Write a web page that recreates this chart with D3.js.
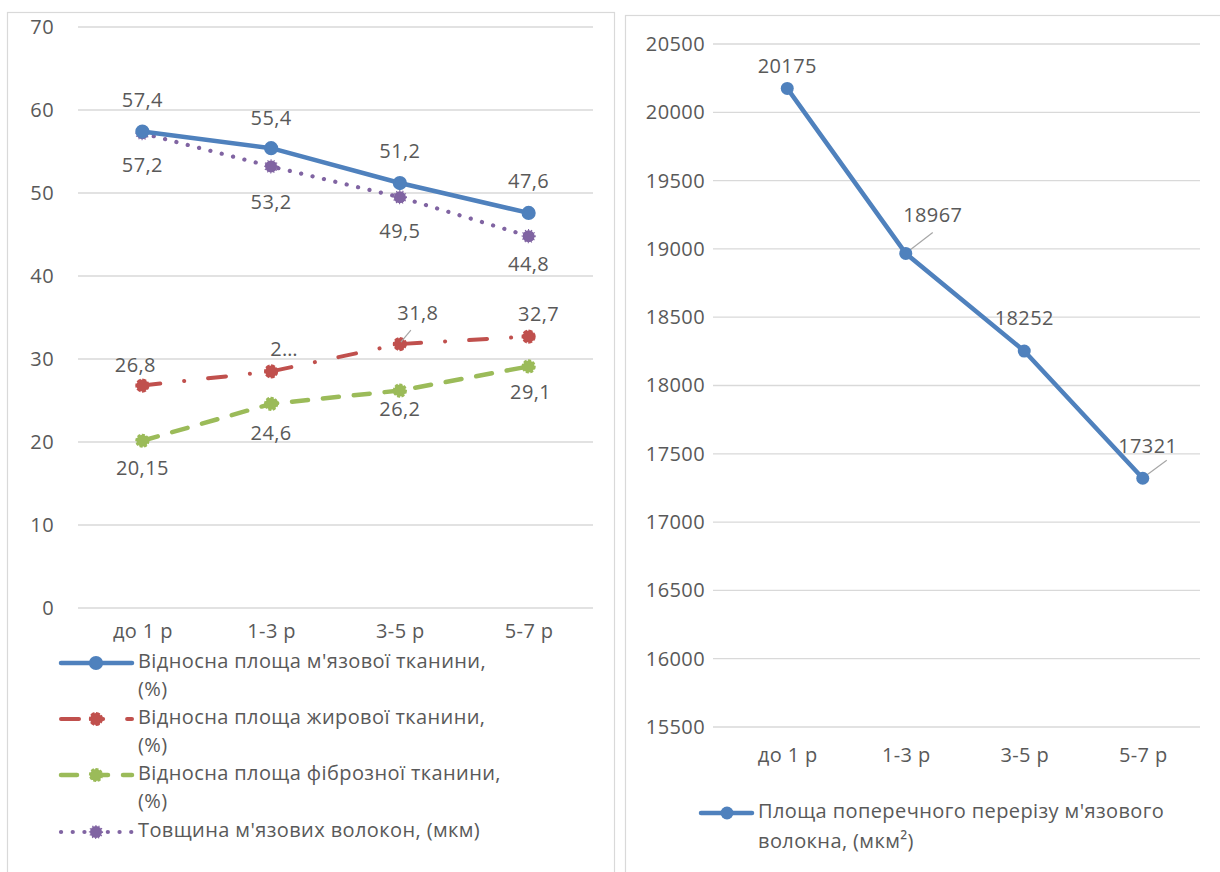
<!DOCTYPE html>
<html>
<head>
<meta charset="utf-8">
<script src="https://cdn.jsdelivr.net/npm/d3@7"></script>
<style>
  html, body { margin: 0; padding: 0; background: #fff; }
  svg text { font-family: "Open Sans", "Noto Sans", sans-serif; fill: #595959; letter-spacing: 0.4px; }
</style>
</head>
<body>
<svg id="chart" width="1220" height="872"></svg>
<script>
// Age groups shared by both panels
const categories = ["до 1 р", "1-3 р", "3-5 р", "5-7 р"];

// Left panel series
const muscleArea = [57.4, 55.4, 51.2, 47.6];
const fatArea = [26.8, 28.5, 31.8, 32.7];
const fibrousArea = [20.15, 24.6, 26.2, 29.1];
const fiberThickness = [57.2, 53.2, 49.5, 44.8];

// Label texts for the left panel (the fat value at 1-3 р is shown truncated)
const muscleLabels = ["57,4", "55,4", "51,2", "47,6"];
const fatLabels = ["26,8", "2…", "31,8", "32,7"];
const fibrousLabels = ["20,15", "24,6", "26,2", "29,1"];
const thicknessLabels = ["57,2", "53,2", "49,5", "44,8"];

const leftTicks = [0, 10, 20, 30, 40, 50, 60, 70];

// Right panel series
const crossSection = [20175, 18967, 18252, 17321];
const crossLabels = ["20175", "18967", "18252", "17321"];
const rightTicks = [15500, 16000, 16500, 17000, 17500, 18000, 18500, 19000, 19500, 20000, 20500];

const svg = d3.select("#chart");
const txtColor = "#595959";
const gridColor = "#d9d9d9";
const FS = "20px";

// panel frames
svg.append("rect").attr("x", 7.5).attr("y", 12.5).attr("width", 607).attr("height", 880)
  .attr("fill", "none").attr("stroke", gridColor).attr("stroke-width", 1.2);
svg.append("rect").attr("x", 625.5).attr("y", 15.5).attr("width", 620).attr("height", 880)
  .attr("fill", "none").attr("stroke", gridColor).attr("stroke-width", 1.2);

function styleAxisText(sel) {
  sel.select(".domain").remove();
  sel.selectAll("text").style("font-size", FS).attr("fill", txtColor)
    .style("font-family", "Open Sans");
}

// ---------- left panel ----------
const xL = d3.scalePoint().domain(categories).range([78, 593]).padding(0.5);
const yL = d3.scaleLinear().domain([0, 70]).range([608, 27]);

const gL = svg.append("g");
gL.selectAll("line.grid").data(leftTicks).join("line")
  .attr("x1", 78).attr("x2", 593)
  .attr("y1", d => yL(d)).attr("y2", d => yL(d))
  .attr("stroke", gridColor).attr("stroke-width", 1.3);

gL.append("g").attr("transform", "translate(54,0)")
  .call(d3.axisLeft(yL).tickValues(leftTicks).tickSize(0).tickPadding(0))
  .call(styleAxisText);

gL.append("g").attr("transform", "translate(0,624)")
  .call(d3.axisBottom(xL).tickSize(0).tickPadding(0))
  .call(styleAxisText);

const leftSeries = [
  { name: "muscle", values: muscleArea, labels: muscleLabels, color: "#4F81BD", dash: null, width: 4.5,
    mDash: null, labelOff: [[0, -30], [0, -29], [0, -30], [0, -30]] },
  { name: "fat", values: fatArea, labels: fatLabels, color: "#C0504D", dash: "18,24,0.1,24", width: 4,
    mDash: "4,1.5", labelOff: [[-7, -19], [13, -21], [18, -29], [10, -21]] },
  { name: "fibrous", values: fibrousArea, labels: fibrousLabels, color: "#9BBB59", dash: "16,15", width: 4.5,
    mDash: "3,1.5", labelOff: [[0, 29], [0, 31], [0, 20], [2, 27]] },
  { name: "thickness", values: fiberThickness, labels: thicknessLabels, color: "#8064A2", dash: "0.1,11.6", width: 4.2,
    mDash: "1,2", labelOff: [[0, 33], [0, 37], [0, 36], [0, 29]] }
];

const lineL = d3.line().x((d, i) => xL(categories[i])).y(d => yL(d));

// draw order: fibrous, fat, thickness, muscle on top
const order = ["fibrous", "fat", "thickness", "muscle"];
order.forEach(n => {
  const s = leftSeries.find(o => o.name === n);
  const g = gL.append("g");
  g.append("path").datum(s.values).attr("d", lineL)
    .attr("fill", "none").attr("stroke", s.color).attr("stroke-width", s.width)
    .attr("stroke-linecap", "round").attr("stroke-linejoin", "round")
    .attr("stroke-dasharray", s.dash);
  g.selectAll("circle").data(s.values).join("circle")
    .attr("cx", (d, i) => xL(categories[i])).attr("cy", d => yL(d))
    .attr("r", 6).attr("fill", s.color)
    .attr("stroke", s.color).attr("stroke-width", 2.2)
    .attr("stroke-dasharray", s.mDash);
});

// leader line for the 31,8 label
gL.append("line")
  .attr("x1", xL(categories[2]) + 1).attr("y1", yL(fatArea[2]) - 2)
  .attr("x2", xL(categories[2]) + 11).attr("y2", yL(fatArea[2]) - 14)
  .attr("stroke", "#a6a6a6").attr("stroke-width", 1.2);

order.forEach(n => {
  const s = leftSeries.find(o => o.name === n);
  gL.append("g").selectAll("text").data(s.values).join("text")
    .attr("x", (d, i) => xL(categories[i]) + s.labelOff[i][0])
    .attr("y", (d, i) => yL(d) + s.labelOff[i][1])
    .attr("text-anchor", "middle").attr("dominant-baseline", "middle")
    .style("font-size", FS)
    .text((d, i) => s.labels[i]);
});

// legend, left panel
const legendL = [
  { s: leftSeries[0], lines: ["Відносна площа м'язової тканини,", "(%)"] },
  { s: leftSeries[1], lines: ["Відносна площа жирової тканини,", "(%)"] },
  { s: leftSeries[2], lines: ["Відносна площа фіброзної тканини,", "(%)"] },
  { s: leftSeries[3], lines: ["Товщина м'язових волокон, (мкм)"] }
];
const legYs = [663, 719, 775, 832];
legendL.forEach((item, k) => {
  const y = legYs[k];
  const g = gL.append("g");
  g.append("line").attr("x1", 61).attr("x2", 132).attr("y1", y).attr("y2", y)
    .attr("stroke", item.s.color).attr("stroke-width", item.s.width)
    .attr("stroke-linecap", "round").attr("stroke-dasharray", item.s.dash);
  g.append("circle").attr("cx", 96).attr("cy", y).attr("r", 6)
    .attr("fill", item.s.color).attr("stroke", item.s.color).attr("stroke-width", 2.2)
    .attr("stroke-dasharray", item.s.mDash);
  item.lines.forEach((t, j) => {
    g.append("text").attr("x", 138).attr("y", y + j * 28)
      .attr("dominant-baseline", "middle").style("font-size", FS).text(t);
  });
});

// ---------- right panel ----------
const xR = d3.scalePoint().domain(categories).range([728, 1202]).padding(0.5);
const yR = d3.scaleLinear().domain([15500, 20500]).range([727, 44]);

const gR = svg.append("g");
gR.selectAll("line.grid").data(rightTicks).join("line")
  .attr("x1", 713).attr("x2", 1200)
  .attr("y1", d => yR(d)).attr("y2", d => yR(d))
  .attr("stroke", gridColor).attr("stroke-width", 1.3);

gR.append("g").attr("transform", "translate(705,0)")
  .call(d3.axisLeft(yR).tickValues(rightTicks).tickFormat(d3.format("d")).tickSize(0).tickPadding(0))
  .call(styleAxisText);

gR.append("g").attr("transform", "translate(0,748)")
  .call(d3.axisBottom(xR).tickSize(0).tickPadding(0))
  .call(styleAxisText);

const blue = "#4F81BD";
const lineR = d3.line().x((d, i) => xR(categories[i])).y(d => yR(d));
gR.append("path").datum(crossSection).attr("d", lineR)
  .attr("fill", "none").attr("stroke", blue).attr("stroke-width", 4.5)
  .attr("stroke-linejoin", "round");

// leader lines for the two offset labels
[[1, 27, -21], [3, 24, -18]].forEach(([i, dx, dy]) => {
  gR.append("line")
    .attr("x1", xR(categories[i]) + 1).attr("y1", yR(crossSection[i]) - 1)
    .attr("x2", xR(categories[i]) + dx).attr("y2", yR(crossSection[i]) + dy)
    .attr("stroke", "#a6a6a6").attr("stroke-width", 1.2);
});

gR.selectAll("circle").data(crossSection).join("circle")
  .attr("cx", (d, i) => xR(categories[i])).attr("cy", d => yR(d))
  .attr("r", 6.5).attr("fill", blue);

const rightOff = [[0, -21], [27, -37], [0, -31], [5, -31]];
gR.append("g").selectAll("text").data(crossSection).join("text")
  .attr("x", (d, i) => xR(categories[i]) + rightOff[i][0])
  .attr("y", (d, i) => yR(d) + rightOff[i][1])
  .attr("text-anchor", "middle").attr("dominant-baseline", "middle")
  .style("font-size", FS)
  .text((d, i) => crossLabels[i]);

// legend, right panel
const ly = 813;
gR.append("line").attr("x1", 701).attr("x2", 752).attr("y1", ly).attr("y2", ly)
  .attr("stroke", blue).attr("stroke-width", 4.5).attr("stroke-linecap", "round");
gR.append("circle").attr("cx", 727).attr("cy", ly).attr("r", 6.5).attr("fill", blue);
["Площа поперечного перерізу м'язового", "волокна, (мкм²)"].forEach((t, j) => {
  gR.append("text").attr("x", 758).attr("y", ly + j * 30)
    .attr("dominant-baseline", "middle").style("font-size", FS).text(t);
});
</script>
</body>
</html>
